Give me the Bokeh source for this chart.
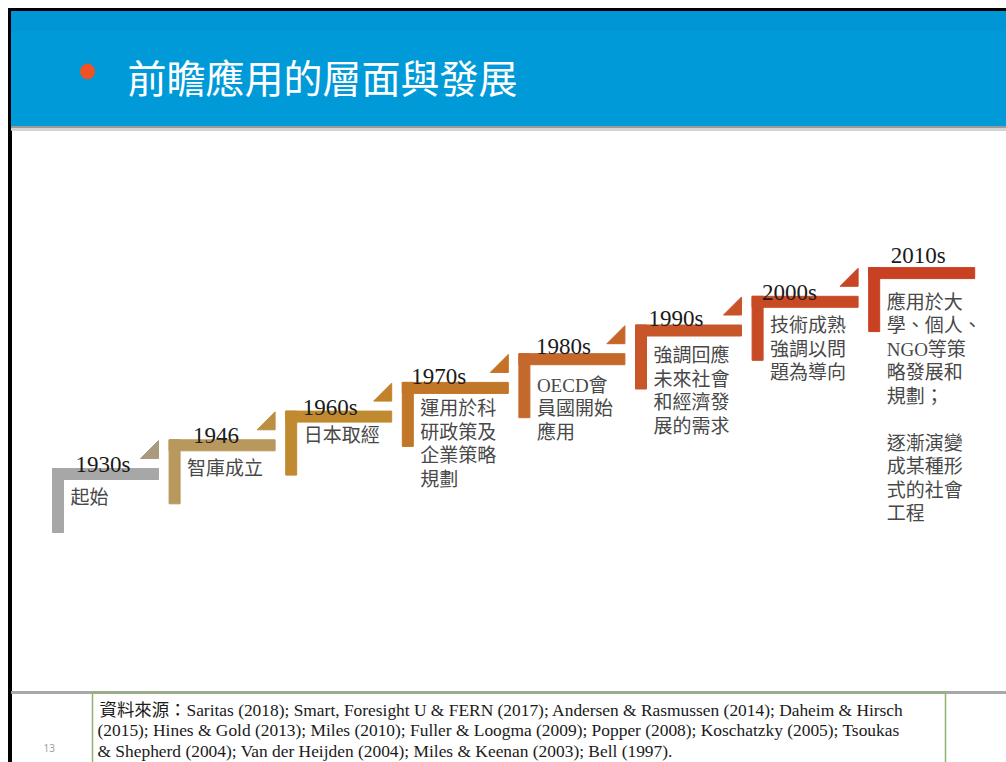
from bokeh.plotting import figure
from bokeh.models import Range1d
from bokeh.core.properties import value
from bokeh.embed import file_html
from bokeh.resources import INLINE

# ---------------- data ----------------
title = "前瞻應用的層面與發展"
years = ["1930s", "1946", "1960s", "1970s", "1980s", "1990s", "2000s", "2010s"]
descriptions = [
    ["起始"],
    ["智庫成立"],
    ["日本取經"],
    ["運用於科", "研政策及", "企業策略", "規劃"],
    ["OECD會", "員國開始", "應用"],
    ["強調回應", "未來社會", "和經濟發", "展的需求"],
    ["技術成熟", "強調以問", "題為導向"],
    ["應用於大", "學、個人、", "NGO等策", "略發展和", "規劃；", "", "逐漸演變", "成某種形", "式的社會", "工程"],
]
source_lines = [
    "資料來源：Saritas (2018); Smart, Foresight U & FERN (2017); Andersen & Rasmussen (2014); Daheim & Hirsch",
    "(2015); Hines & Gold (2013); Miles (2010); Fuller & Loogma  (2009); Popper (2008); Koschatzky (2005); Tsoukas",
    "& Shepherd (2004); Van der Heijden (2004); Miles & Keenan (2003); Bell (1997).",
]
page_number = "13"

# ---------------- style / layout ----------------
step_colors = ["#a7a7a7", "#b8985c", "#c08a30", "#c27628", "#c5682c", "#c75728", "#c84a25", "#c84122"]
tri_colors = ["#a99b80", "#bb8f42", "#c2822a", "#c57224", "#c8632a", "#c95228", "#c84526"]
text_offsets = [7, 7, 3, 5, 10, 9, 8, 13]
year_dx = [23, 24, 17, 9, 17, 13, 10, 22]
year_offsets = [4, 4, 4, 6, 7, 7, 4, 12]

W, H = 1006, 762
p = figure(width=W, height=H, x_range=Range1d(0, W), y_range=Range1d(H, 0),
           output_backend="svg", toolbar_location=None, min_border=0,
           background_fill_color="white", border_fill_color="white")
p.axis.visible = False
p.grid.visible = False
p.outline_line_color = None

# slide frame and header
p.quad(left=[8], right=[1006], top=[8], bottom=[11], color="#000000")
p.quad(left=[8], right=[11], top=[8], bottom=[762], color="#000000")
p.quad(left=[11], right=[1006], top=[11], bottom=[126], color="#019ad8")
p.quad(left=[11], right=[1006], top=[11], bottom=[30], color="#0096d5")
p.quad(left=[11], right=[1006], top=[126], bottom=[128], color="#9a9a9a")
p.quad(left=[11], right=[1006], top=[128], bottom=[130], color="#d4d4d4")
p.ellipse(x=[87], y=[71], width=[14], height=[15], color="#ef5323")
p.text(x=[127], y=[75], text=[title], text_font=value("Noto Sans CJK TC"),
       text_font_size="39px", text_color="white", text_baseline="middle",
       text_align="left")

# steps
x0, dx = 52.0, 116.6
top0, dy = 468.0, 28.7
bar_w, thick, vlen, tri = 106.0, 11.0, 64.0, 18.0
font_mix = value("Liberation Serif, Noto Sans CJK TC")
for i, (yr, desc) in enumerate(zip(years, descriptions)):
    L = x0 + i * dx
    T = top0 - i * dy
    R = L + bar_w
    c = step_colors[i]
    p.quad(left=[L], right=[R], top=[T], bottom=[T + thick], color=c)
    p.quad(left=[L], right=[L + thick], top=[T], bottom=[T + vlen], color=c)
    if i < len(years) - 1:
        tb = T - 10
        p.patch(x=[R - tri, R, R], y=[tb, tb, tb - tri], color=tri_colors[i])
    p.text(x=[L + year_dx[i]], y=[T - year_offsets[i]], text=[yr], text_font=value("Liberation Serif"),
           text_font_size="23px", text_color="#1a1a1a", text_baseline="alphabetic")
    ty = T + thick + text_offsets[i]
    xs, ys, ts = [], [], []
    for k, line in enumerate(desc):
        if line:
            xs.append(L + 18)
            ys.append(ty + k * 23.5)
            ts.append(line)
    p.text(x=xs, y=ys, text=ts, text_font=font_mix, text_font_size="19px",
           text_color="#484848", text_baseline="top")

# footer
p.quad(left=[11], right=[1006], top=[691], bottom=[693], color="#a8a8a8")
p.quad(left=[92], right=[945], top=[692], bottom=[775], fill_color=None,
       line_color="#8db36e", line_width=1.5)
p.text(x=[43], y=[747], text=[page_number], text_font=value("Noto Sans"),
       text_font_size="10px", text_color="#a0a0a0", text_baseline="alphabetic")
for k, line in enumerate(source_lines):
    p.text(x=[99 if k == 0 else 97], y=[709 + k * 20.5], text=[line], text_font=font_mix,
           text_font_size="17.4px", text_color="#1a1a1a", text_baseline="alphabetic")

open("out.html", "w").write(file_html(p, INLINE))
